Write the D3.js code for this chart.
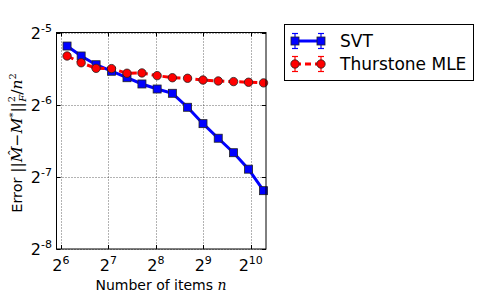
<!DOCTYPE html>
<html>
<head>
<meta charset="utf-8">
<script src="https://cdn.jsdelivr.net/npm/d3@7"></script>
<style>
  body { margin: 0; background: #fff; }
  svg { display: block; }
  text { font-family: "DejaVu Sans", sans-serif; }
</style>
</head>
<body>
<svg width="502" height="297"></svg>
<script>
// number of items n
var items = [70, 86, 107, 134, 168, 209, 261, 326, 407, 510, 637, 797, 992, 1235];
// error for each method
var svtErr = [0.02744, 0.02494, 0.02293, 0.02154, 0.02024, 0.01906, 0.01816, 0.01743,
              0.01524, 0.01302, 0.01132, 0.00985, 0.00841, 0.00684];
var mleErr = [0.02494, 0.02337, 0.02215, 0.02209, 0.02113, 0.02119, 0.02065, 0.02024,
              0.02013, 0.01980, 0.01962, 0.01950, 0.01938, 0.01926];
var xTicks = [6, 7, 8, 9, 10];      // powers of two
var yTicks = [-8, -7, -6, -5];
var seriesNames = ["SVT", "Thurstone MLE"];

var svg = d3.select("svg");
var pl = 56.5, pr = 266, pt = 32.5, pb = 249;

var x = d3.scaleLog().base(2).domain([60, 1280]).range([pl, pr]);
var y = d3.scaleLog().base(2).domain([Math.pow(2, -8), Math.pow(2, -5)]).range([pb, pt]);

// grid
var grid = svg.append("g").attr("stroke", "#000").attr("stroke-width", 0.6)
  .attr("stroke-dasharray", "1,2");
xTicks.forEach(function(p) {
  var xx = Math.round(x(Math.pow(2, p))) + 0.5;
  grid.append("line").attr("x1", xx).attr("x2", xx).attr("y1", pt).attr("y2", pb);
});
yTicks.forEach(function(p) {
  var yy = Math.round(y(Math.pow(2, p))) + 0.5;
  grid.append("line").attr("x1", pl).attr("x2", pr).attr("y1", yy).attr("y2", yy);
});

// ticks inside on all sides
var ticks = svg.append("g").attr("stroke", "#000").attr("stroke-width", 1);
xTicks.forEach(function(p) {
  var xx = Math.round(x(Math.pow(2, p))) + 0.5;
  ticks.append("line").attr("x1", xx).attr("x2", xx).attr("y1", pb).attr("y2", pb - 4);
  ticks.append("line").attr("x1", xx).attr("x2", xx).attr("y1", pt).attr("y2", pt + 4);
});
yTicks.forEach(function(p) {
  var yy = Math.round(y(Math.pow(2, p))) + 0.5;
  ticks.append("line").attr("x1", pl).attr("x2", pl + 4).attr("y1", yy).attr("y2", yy);
  ticks.append("line").attr("x1", pr).attr("x2", pr - 4).attr("y1", yy).attr("y2", yy);
});

// tick labels
xTicks.forEach(function(p) {
  var t = svg.append("text").attr("x", x(Math.pow(2, p))).attr("y", 271)
    .attr("text-anchor", "middle").attr("font-size", 16);
  t.append("tspan").text("2");
  t.append("tspan").attr("dy", -7).attr("font-size", 11).text(p);
});
yTicks.forEach(function(p) {
  var t = svg.append("text").attr("x", 52).attr("y", y(Math.pow(2, p)) + 6)
    .attr("text-anchor", "end").attr("font-size", 16);
  t.append("tspan").text("2");
  t.append("tspan").attr("dy", -7).attr("font-size", 11).text(p);
});

// lines and markers
var line = d3.line().x(function(d) { return x(d[0]); }).y(function(d) { return y(d[1]); });
var plot = svg.append("g");
var mleData = d3.zip(items, mleErr), svtData = d3.zip(items, svtErr);

plot.append("path").datum(svtData).attr("d", line).attr("fill", "none")
  .attr("stroke", "#0000ff").attr("stroke-width", 3);
plot.selectAll("rect.svt").data(svtData).enter().append("rect").attr("class", "svt")
  .attr("x", function(d) { return x(d[0]) - 4; })
  .attr("y", function(d) { return y(d[1]) - 4; })
  .attr("width", 8).attr("height", 8)
  .attr("fill", "#0000ff").attr("stroke", "#222").attr("stroke-width", 0.8);

plot.append("path").datum(mleData).attr("d", line).attr("fill", "none")
  .attr("stroke", "#ff0000").attr("stroke-width", 3).attr("stroke-dasharray", "7,4");
plot.selectAll("circle.mle").data(mleData).enter().append("circle").attr("class", "mle")
  .attr("cx", function(d) { return x(d[0]); })
  .attr("cy", function(d) { return y(d[1]); })
  .attr("r", 4.2)
  .attr("fill", "#ff0000").attr("stroke", "#222").attr("stroke-width", 0.8);

// frame
svg.append("rect").attr("x", pl).attr("y", pt).attr("width", pr - pl)
  .attr("height", pb - pt).attr("fill", "none").attr("stroke", "#000").attr("stroke-width", 1);

// axis labels
var xl = svg.append("text").attr("x", 161).attr("y", 290).attr("text-anchor", "middle")
  .attr("font-size", 14);
xl.append("tspan").text("Number of items ");
xl.append("tspan").attr("font-family", "DejaVu Serif").attr("font-style", "italic").text("n");

var yl = svg.append("text").attr("transform", "translate(22,143) rotate(-90)")
  .attr("text-anchor", "middle").attr("font-size", 14.5);
yl.append("tspan").text("Error  ");
function mt(txt, opts) {
  var s = yl.append("tspan").attr("font-family", "DejaVu Serif").attr("font-size", 15.5).text(txt);
  opts = opts || {};
  if (opts.italic) s.attr("font-style", "italic");
  if (opts.size) s.attr("font-size", opts.size);
  if (opts.dy) s.attr("dy", opts.dy);
  if (opts.dx) s.attr("dx", opts.dx);
  return s;
}
mt("||");
mt("M\u0302", { italic: true });
mt("\u2212");
mt("M", { italic: true });
mt("*", { size: 10, dy: -6 });
mt("||", { dy: 6 });
mt("2", { size: 10, dy: -7 });
mt("F", { size: 10, dy: 11, dx: -6, italic: true });
mt("/", { dy: -4 });
mt("n", { italic: true });
mt("2", { size: 10, dy: -6 });

// legend
var lg = svg.append("g");
lg.append("rect").attr("x", 284.5).attr("y", 24.5).attr("width", 189).attr("height", 56)
  .attr("fill", "#fff").attr("stroke", "#000").attr("stroke-width", 1);
var legendRows = [
  { name: seriesNames[0], color: "#0000ff", dash: null, shape: "square", y: 41 },
  { name: seriesNames[1], color: "#ff0000", dash: "6,4", shape: "circle", y: 64 }
];
legendRows.forEach(function(r) {
  var x1 = 295, x2 = 321;
  lg.append("line").attr("x1", x1).attr("x2", x2).attr("y1", r.y).attr("y2", r.y)
    .attr("stroke", r.color).attr("stroke-width", 3).attr("stroke-dasharray", r.dash);
  [x1, x2].forEach(function(cx) {
    lg.append("line").attr("x1", cx).attr("x2", cx).attr("y1", r.y - 7.5).attr("y2", r.y + 7.5)
      .attr("stroke", r.color).attr("stroke-width", 1.2);
    [-7.5, 7.5].forEach(function(o) {
      lg.append("line").attr("x1", cx - 3).attr("x2", cx + 3).attr("y1", r.y + o).attr("y2", r.y + o)
        .attr("stroke", r.color).attr("stroke-width", 1.2);
    });
    if (r.shape === "square") {
      lg.append("rect").attr("x", cx - 4).attr("y", r.y - 4).attr("width", 8).attr("height", 8)
        .attr("fill", r.color).attr("stroke", "#222").attr("stroke-width", 0.8);
    } else {
      lg.append("circle").attr("cx", cx).attr("cy", r.y).attr("r", 4.2)
        .attr("fill", r.color).attr("stroke", "#222").attr("stroke-width", 0.8);
    }
  });
  lg.append("text").attr("x", 340).attr("y", r.y + 6).attr("font-size", 17).text(r.name);
});
</script>
</body>
</html>
